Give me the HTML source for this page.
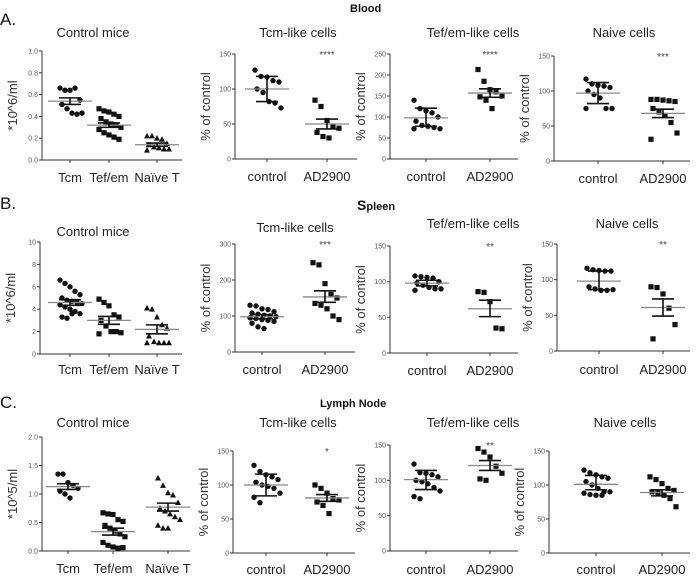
<!DOCTYPE html>
<html><head><meta charset="utf-8"><style>
html,body{margin:0;padding:0;background:#fff;}
svg{display:block;font-family:"Liberation Sans",sans-serif;}
</style></head><body>
<svg id="fig" width="700" height="578" viewBox="0 0 700 578">
<text x="0" y="25" font-size="17" fill="#111">A.</text>
<text x="350" y="12" font-size="11" font-weight="bold" fill="#111">Blood</text>
<text x="0" y="209" font-size="17" fill="#111">B.</text>
<text x="357" y="210" font-size="11" font-weight="bold" fill="#111"><tspan font-size="14">S</tspan>pleen</text>
<text x="0" y="408" font-size="17" fill="#111">C.</text>
<text x="320" y="407" font-size="11" font-weight="bold" fill="#111">Lymph Node</text>
</svg>
<script>
// ---- data: values per group ----
const catsControl = ["Tcm","Tef/em","Naïve T"];
const catsTreat = ["control","AD2900"];
const a1Tcm=[0.66,0.64,0.64,0.66,0.55,0.51,0.47,0.43,0.42,0.43];
const a1Tef=[0.47,0.45,0.44,0.42,0.40,0.38,0.35,0.33,0.32,0.30,0.28,0.25,0.23,0.21,0.19];
const a1Nai=[0.22,0.22,0.20,0.19,0.15,0.14,0.12,0.11,0.10,0.10,0.09];
const a2Ctl=[127,118,117,112,110,100,95,82,80,73];
const a2Trt=[84,75,55,47,44,38,32,30];
const a3Ctl=[140,120,115,110,100,90,80,78,75,72,72];
const a3Trt=[213,185,165,160,150,148,140,120];
const a4Ctl=[117,110,108,107,105,100,95,90,75,75,75];
const a4Trt=[88,88,87,86,85,75,70,65,55,40,31];
const b1Tcm=[6.6,6.3,6.0,5.6,5.3,5.0,4.8,4.7,4.6,4.5,4.4,4.2,4.0,3.8,3.6,3.3,3.2,3.6];
const b1Tef=[4.9,4.6,4.3,3.5,3.3,3.0,2.5,2.0,2.0,1.9,1.8];
const b1Nai=[4.1,4.0,3.3,2.6,2.3,1.6,1.1,1.0,1.0,1.0,1.0];
const b2Ctl=[130,128,120,118,112,108,105,102,100,98,95,93,90,88,85,80,70,65];
const b2Trt=[248,242,190,160,150,135,130,120,100,90];
const b3Ctl=[108,107,106,105,100,98,95,92,90,90,88];
const b3Trt=[86,85,72,35,34];
const b4Ctl=[116,114,113,112,112,90,87,85,85,86];
const b4Trt=[90,89,80,60,37,17];
const c1Tcm=[1.35,1.35,1.2,1.15,1.1,1.05,1.0,0.93];
const c1Tef=[0.67,0.65,0.64,0.55,0.52,0.45,0.40,0.35,0.30,0.25,0.15,0.10,0.07,0.05,0.06];
const c1Nai=[1.28,1.15,1.02,0.98,0.85,0.75,0.70,0.65,0.60,0.55,0.45,0.40,0.40];
const c2Ctl=[129,120,115,112,108,104,100,98,95,88,82,74];
const c2Trt=[100,95,88,80,78,75,70,58];
const c3Ctl=[123,111,110,108,105,100,98,95,90,85,77,74];
const c3Trt=[145,140,133,120,110,102,100];
const c4Ctl=[122,118,115,112,110,105,100,95,90,90,88,86,85,85];
const c4Trt=[112,108,102,95,92,90,88,85,80,68];
// mean, lower err, upper err per group
const a1Stats=[[0.54,0.51,0.57],[0.32,0.30,0.34],[0.14,0.125,0.155]];
const a2Stats=[[100,82,118],[50,43,57]];
const a3Stats=[[98,78,121],[157,147,167]];
const a4Stats=[[97,82,112],[68,62,74]];
const b1Stats=[[4.6,4.35,4.85],[3.0,2.65,3.35],[2.2,1.8,2.6]];
const b2Stats=[[98,92,104],[153,138,170]];
const b3Stats=[[98,94,102],[62,51,74]];
const b4Stats=[[98,86,112],[61,49,73]];
const c1Stats=[[1.13,1.08,1.18],[0.34,0.28,0.40],[0.77,0.70,0.84]];
const c2Stats=[[100,84,116],[81,76,86]];
const c3Stats=[[101,87,114],[121,114,128]];
const c4Stats=[[101,93,114],[89,84,93]];
const tickA1=["0.0","0.2","0.4","0.6","0.8","1.0"];
const tickB1=["0","2","4","6","8","10"];
const tickC1=["0.0","0.5","1.0","1.5","2.0"];
const tick150=["0","50","100","150"];
const tick250=["0","50","100","150","200","250"];
const tick300=["0","100","200","300"];

const svg=document.getElementById('fig');
const NS='http://www.w3.org/2000/svg';
function mk(tag,at,parent){const e=document.createElementNS(NS,tag);for(const k in at)e.setAttribute(k,at[k]);(parent||svg).appendChild(e);return e;}

const panels=[
 {id:'a1',title:'Control mice',tx:93,ty:37,ax:42,x2:182,top:51,bot:160,max:1.0,ticks:tickA1,cats:catsControl,cx:[70,109,157],ly:182,ylab:'*10^6/ml',groups:[a1Tcm,a1Tef,a1Nai],stats:a1Stats,mk:['c','s','t'],sig:''},
 {id:'a2',title:'Tcm-like cells',tx:298,ty:37,ax:235,x2:357,top:54,bot:159,max:150,ticks:tick150,cats:catsTreat,cx:[267,327],ly:181,ylab:'% of control',groups:[a2Ctl,a2Trt],stats:a2Stats,mk:['c','s'],sig:'****'},
 {id:'a3',title:'Tef/em-like cells',tx:473,ty:37,ax:390,x2:518,top:54,bot:159,max:250,ticks:tick250,cats:catsTreat,cx:[426,490],ly:181,ylab:'% of control',groups:[a3Ctl,a3Trt],stats:a3Stats,mk:['c','s'],sig:'****'},
 {id:'a4',title:'Naive cells',tx:624,ty:37,ax:554,x2:690,top:56,bot:161,max:150,ticks:tick150,cats:catsTreat,cx:[598,663],ly:183,ylab:'% of control',groups:[a4Ctl,a4Trt],stats:a4Stats,mk:['c','s'],sig:'***'},
 {id:'b1',title:'Control mice',tx:93,ty:236,ax:40,x2:182,top:242,bot:354,max:10,ticks:tickB1,cats:catsControl,cx:[70,109,157],ly:374,ylab:'*10^6/ml',groups:[b1Tcm,b1Tef,b1Nai],stats:b1Stats,mk:['c','s','t'],sig:''},
 {id:'b2',title:'Tcm-like cells',tx:295,ty:232,ax:235,x2:355,top:244,bot:352,max:300,ticks:tick300,cats:catsTreat,cx:[262,325],ly:374,ylab:'% of control',groups:[b2Ctl,b2Trt],stats:b2Stats,mk:['c','s'],sig:'***'},
 {id:'b3',title:'Tef/em-like cells',tx:473,ty:228,ax:390,x2:518,top:246,bot:353,max:150,ticks:tick150,cats:catsTreat,cx:[427,490],ly:375,ylab:'% of control',groups:[b3Ctl,b3Trt],stats:b3Stats,mk:['c','s'],sig:'**'},
 {id:'b4',title:'Naive cells',tx:627,ty:228,ax:557,x2:690,top:244,bot:351,max:150,ticks:tick150,cats:catsTreat,cx:[599,663],ly:374,ylab:'% of control',groups:[b4Ctl,b4Trt],stats:b4Stats,mk:['c','s'],sig:'**'},
 {id:'c1',title:'Control mice',tx:93,ty:427,ax:42,x2:190,top:437,bot:551,max:2.0,ticks:tickC1,cats:catsControl,cx:[68,113,168],ly:573,ylab:'*10^5/ml',groups:[c1Tcm,c1Tef,c1Nai],stats:c1Stats,mk:['c','s','t'],sig:''},
 {id:'c2',title:'Tcm-like cells',tx:298,ty:427,ax:233,x2:355,top:451,bot:553,max:150,ticks:tick150,cats:catsTreat,cx:[266,327],ly:574,ylab:'% of control',groups:[c2Ctl,c2Trt],stats:c2Stats,mk:['c','s'],sig:'*'},
 {id:'c3',title:'Tef/em-like cells',tx:473,ty:427,ax:390,x2:518,top:445,bot:551,max:150,ticks:tick150,cats:catsTreat,cx:[426,490],ly:574,ylab:'% of control',groups:[c3Ctl,c3Trt],stats:c3Stats,mk:['c','s'],sig:'**'},
 {id:'c4',title:'Naive cells',tx:625,ty:427,ax:549,x2:690,top:451,bot:553,max:150,ticks:tick150,cats:catsTreat,cx:[596,662],ly:574,ylab:'% of control',groups:[c4Ctl,c4Trt],stats:c4Stats,mk:['c','s'],sig:''}
];

panels.forEach(p=>{
  const g=mk('g',{});
  
  
  const y=v=>p.bot-(v/p.max)*(p.bot-p.top);
  const t=mk('text',{x:p.tx,y:p.ty,'font-size':13,'text-anchor':'middle',fill:'#222'},g);t.textContent=p.title;
  
  
  const yl=mk('line',{x1:p.ax,y1:p.top,x2:p.ax,y2:p.bot,stroke:'#333','stroke-width':1},g);
  
  
  const xl=mk('line',{x1:p.ax,y1:p.bot,x2:p.x2,y2:p.bot,stroke:'#333','stroke-width':1},g);
  
  
  const n=p.ticks.length-1;
  p.ticks.forEach((lab,i)=>{
    const v=p.max*i/n, yy=y(v);
    mk('line',{x1:p.ax-3,y1:yy,x2:p.ax,y2:yy,stroke:'#333'},g);
    const tl=mk('text',{x:p.ax-4,y:yy+2.5,'font-size':7,'text-anchor':'end',fill:'#555'},g);tl.textContent=lab;
    
    
  });
  const ylab=mk('text',{x:0,y:0,'font-size':13,'text-anchor':'middle',fill:'#333',transform:`translate(${p.ax-25},${(p.top+p.bot)/2}) rotate(-90)`},g);ylab.textContent=p.ylab;
  
  
  p.cats.forEach((c,i)=>{
    mk('line',{x1:p.cx[i],y1:p.bot,x2:p.cx[i],y2:p.bot+3,stroke:'#333'},g);
    const cl=mk('text',{x:p.cx[i],y:p.ly,'font-size':13,'text-anchor':'middle',fill:'#222'},g);cl.textContent=c;
    
    
  });
  p.groups.forEach((vals,gi)=>{
    const cx=p.cx[gi];
    const half=p.cats.length===3?10:12;
    vals.forEach((v,i)=>{
      const off=((i%5)-2)*(half/2)+((Math.floor(i/5)%2)?2:0);
      const px=cx+off, py=y(v);
      let m;
      if(p.mk[gi]==='c') m=mk('circle',{cx:px,cy:py,r:2.7,fill:'#111'},g);
      else if(p.mk[gi]==='s') m=mk('rect',{x:px-2.6,y:py-2.6,width:5.2,height:5.2,fill:'#111'},g);
      else m=mk('polygon',{points:`${px},${py-3.2} ${px-3},${py+2.4} ${px+3},${py+2.4}`,fill:'#111'},g);
      
      
    });
    const st=p.stats[gi];
    const ml=mk('line',{x1:cx-22,y1:y(st[0]),x2:cx+22,y2:y(st[0]),stroke:'#888','stroke-width':1.3},g);
    
    
    const eb=mk('path',{d:`M${cx},${y(st[1])}V${y(st[2])}M${cx-11},${y(st[1])}H${cx+11}M${cx-11},${y(st[2])}H${cx+11}`,stroke:'#111','stroke-width':1.6,fill:'none'},g);
    
    
  });
  if(p.sig){
    const s=mk('text',{x:p.cx[1],y:p.top+4,'font-size':10,'text-anchor':'middle',fill:'#444'},g);s.textContent=p.sig;
    
    
  }
});
</script>
</body></html>
